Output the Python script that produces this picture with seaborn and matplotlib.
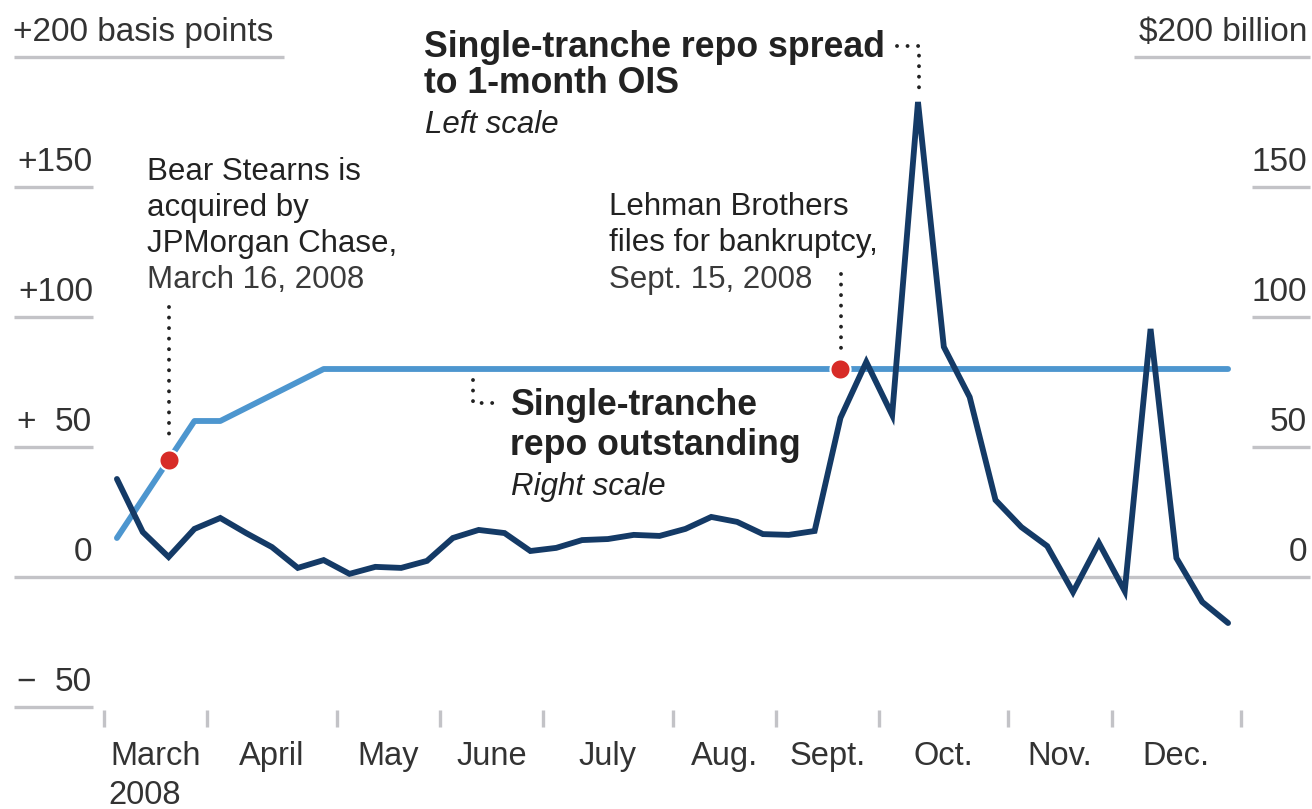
import matplotlib.pyplot as plt
import matplotlib.transforms as mtransforms
import numpy as np
import pandas as pd
import seaborn as sns

# weekly series, March 2008 to end of December 2008
months = ["March", "April", "May", "June", "July", "Aug.", "Sept.", "Oct.", "Nov.", "Dec."]
weeks_per_month = [4, 5, 4, 4, 5, 4, 4, 5, 4, 5]

spread_bp = [37.7, 17.3, 7.7, 18.5, 22.7, 16.9, 11.5, 3.5, 6.5, 1.2, 3.9,
             3.5, 6.2, 15.0, 18.1, 16.9, 10.0, 11.2, 14.2, 14.6, 16.2, 15.8,
             18.5, 23.1, 21.2, 16.5, 16.2, 17.7, 61.2, 82.7, 62.3, 182.7, 88.5,
             69.2, 29.6, 19.2, 11.9, -5.8, 13.1, -5.4, 95.4, 7.3, -9.6, -17.7]
outstanding_bn = [15, 30, 45, 60, 60, 65, 70, 75, 80, 80, 80,
                  80, 80, 80, 80, 80, 80, 80, 80, 80, 80, 80,
                  80, 80, 80, 80, 80, 80, 80, 80, 80, 80, 80,
                  80, 80, 80, 80, 80, 80, 80, 80, 80, 80, 80]
event_weeks = [2, 28]  # Bear Stearns, Lehman Brothers

left_ticks = [-50, 50, 100, 150]
right_ticks = [50, 100, 150]

W, H = 1312, 809
NAVY = "#143a66"
BLUE = "#4d96cf"
RED = "#d72b27"
GRID = "#c3c3c7"
TEXT = "#222222"

sns.set_theme(style="white")
plt.rcParams["font.family"] = ["Liberation Sans", "DejaVu Sans"]

df = pd.DataFrame({
    "week": np.arange(len(spread_bp)) + 0.5,
    "spread": spread_bp,
    "outstanding": outstanding_bn,
})

fig = plt.figure(figsize=(W / 100, H / 100), dpi=100)
ax = fig.add_axes([0, 0, 1, 1])
px_week = (1241 - 104) / sum(weeks_per_month)
ax.set_xlim(-104 / px_week, (W - 104) / px_week)
ax.set_ylim((577 - H) / 2.6, 577 / 2.6)
ax.axis("off")


def fx(x):
    return x / W


def fy(y):
    return 1 - y / H


yaxis = ax.get_yaxis_transform()  # x in axes fraction, y in data
xfig = mtransforms.blended_transform_factory(ax.transData, fig.transFigure)

# gridline stubs and labels
ax.hlines(0, fx(14), fx(1310), color=GRID, lw=2.4, transform=yaxis, zorder=1)
ax.hlines(left_ticks, fx(14), fx(93), color=GRID, lw=2.4, transform=yaxis)
ax.hlines(right_ticks, fx(1252), fx(1310), color=GRID, lw=2.4, transform=yaxis)
ax.hlines(200, fx(14), fx(284), color=GRID, lw=2.4, transform=yaxis)
ax.hlines(200, fx(1134), fx(1310), color=GRID, lw=2.4, transform=yaxis)

lab = dict(fontsize=24, color="#333333", va="baseline", textcoords="offset points",
           xycoords=yaxis, xytext=(0, 11.5))
for v in left_ticks:
    if v in (50, -50):
        ax.annotate("+" if v > 0 else "\u2212", (fx(16), v), ha="left", **lab)
        ax.annotate(f"{abs(v)}", (fx(92), v), ha="right", **lab)
    else:
        ax.annotate(f"+{v}", (fx(93), v), ha="right", **lab)
ax.annotate("0", (fx(92), 0), ha="right", **lab)
ax.annotate("+200 basis points", (fx(13), 200), ha="left", **lab)
for v in right_ticks + [0]:
    ax.annotate(f"{v}", (fx(1307), v), ha="right", **lab)
ax.annotate("$200 billion", (fx(1307), 200), ha="right", **lab)

# month ticks
bounds = np.concatenate([[0], np.cumsum(weeks_per_month)])
ax.vlines(bounds, fy(727), fy(710), color=GRID, lw=2.4, transform=xfig)
centers = (bounds[:-1] + bounds[1:]) / 2
for c, m in zip(centers, months):
    ax.text(c, fy(765), m, ha="center", va="baseline", fontsize=23.5,
            color="#333333", transform=xfig)
ax.text(bounds[0] + 4 / px_week, fy(804), "2008", ha="left", va="baseline",
        fontsize=23.5, color="#333333", transform=xfig)

# series
sns.lineplot(data=df, x="week", y="outstanding", ax=ax, color=BLUE, lw=4.2,
             solid_capstyle="round", zorder=3)
sns.lineplot(data=df, x="week", y="spread", ax=ax, color=NAVY, lw=4.2,
             solid_capstyle="round", solid_joinstyle="miter", zorder=4)
ev = df.iloc[event_weeks]
ax.scatter(ev["week"], ev["outstanding"], s=210, color=RED, edgecolor="white",
           linewidth=1.5, zorder=5)

# dotted leaders (pixel coordinates)
dots = dict(color=TEXT, lw=2.8, linestyle=(0, (0.01, 2.7)), dash_capstyle="round",
            transform=fig.transFigure)


def leader(xs, ys):
    ax.plot([fx(x) for x in xs], [fy(y) for y in ys], **dots)


leader([169, 169], [307, 443])
leader([841, 841], [274, 352])
leader([897, 919, 919], [46, 46, 88])
leader([473, 473, 497], [380, 403, 403])

# annotations
def note(x, y, s, **kw):
    kw.setdefault("fontsize", 22.5)
    kw.setdefault("color", TEXT)
    fig.text(fx(x), fy(y), s, ha="left", va="baseline", **kw)


note(147, 180, "Bear Stearns is")
note(147, 216, "acquired by")
note(147, 252, "JPMorgan Chase,")
note(147, 288, "March 16, 2008", color="#3a3a3a")

note(609, 215, "Lehman Brothers")
note(609, 251, "files for bankruptcy,")
note(609, 288, "Sept. 15, 2008", color="#3a3a3a")

note(424, 57, "Single-tranche repo spread", fontsize=25.7, fontweight="bold")
note(424, 93, "to 1-month OIS", fontsize=25.7, fontweight="bold")
note(425, 133, "Left scale", fontsize=22.5, fontstyle="italic")

note(510, 415, "Single-tranche", fontsize=25.7, fontweight="bold")
note(510, 455, "repo outstanding", fontsize=25.7, fontweight="bold")
note(511, 495, "Right scale", fontsize=22.5, fontstyle="italic")

fig.savefig("out.png", dpi=100)
